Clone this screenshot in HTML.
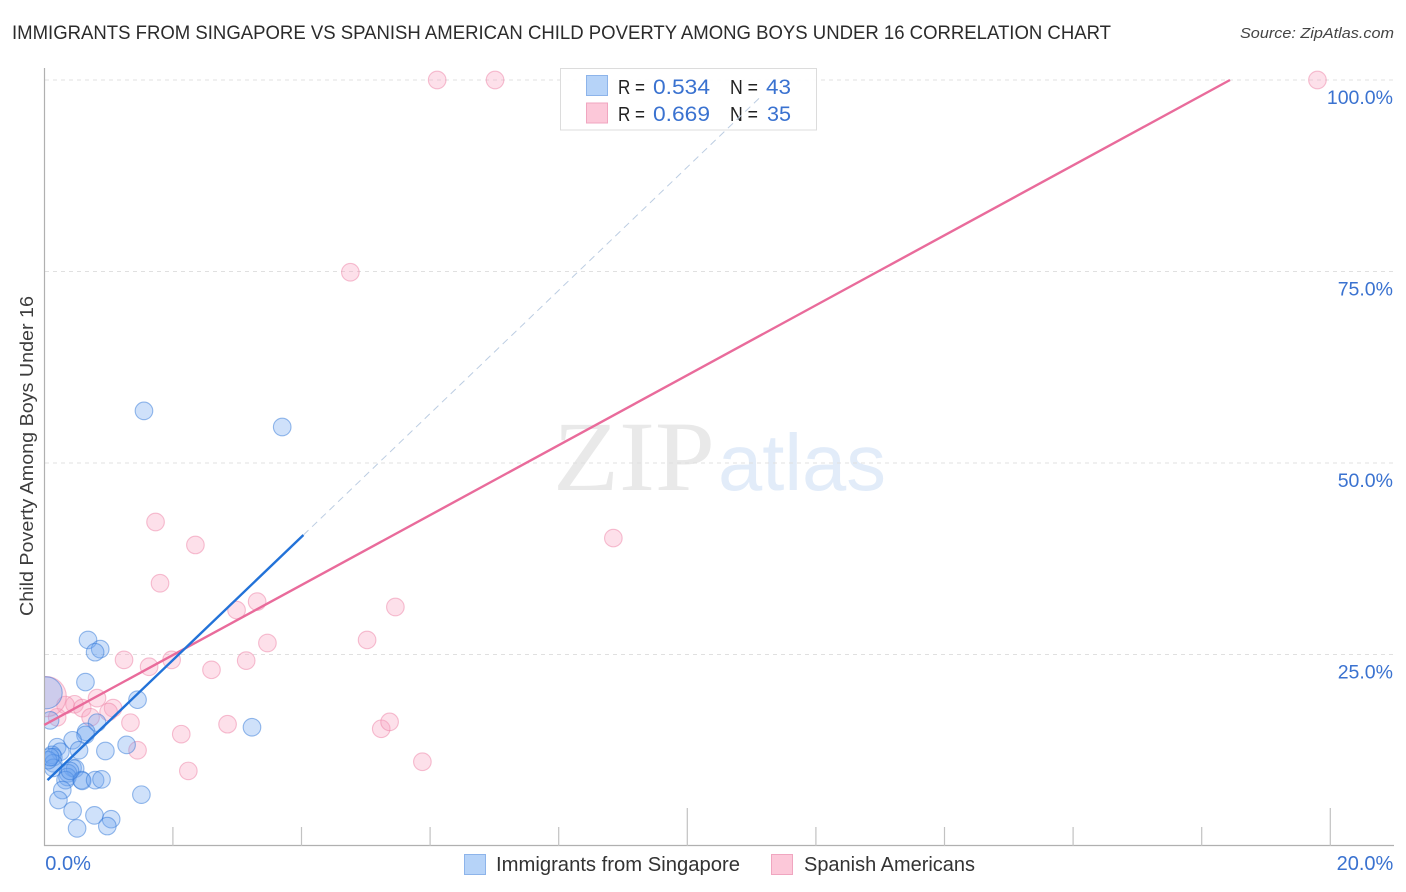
<!DOCTYPE html>
<html>
<head>
<meta charset="utf-8">
<title>Correlation Chart</title>
<style>
html,body{margin:0;padding:0;background:#fff;width:1406px;height:892px;overflow:hidden}
svg{display:block;font-family:"Liberation Sans",sans-serif}
</style>
</head>
<body>
<svg id="chart" width="1406" height="892" viewBox="0 0 1406 892" xmlns="http://www.w3.org/2000/svg">
  <defs><clipPath id="plot-clip"><rect x="45" y="60" width="1350" height="786"/></clipPath></defs>
  <text x="12" y="39" font-size="19" fill="#2b2b2b" textLength="1099" lengthAdjust="spacingAndGlyphs">IMMIGRANTS FROM SINGAPORE VS SPANISH AMERICAN CHILD POVERTY AMONG BOYS UNDER 16 CORRELATION CHART</text>
  <text x="1394" y="38" font-size="15" font-style="italic" fill="#444" text-anchor="end" textLength="154" lengthAdjust="spacingAndGlyphs">Source: ZipAtlas.com</text>
  <g>
    <text x="553" y="490" font-family="'Liberation Serif',serif" font-size="100" fill="#e9e9e9" textLength="162" lengthAdjust="spacingAndGlyphs">ZIP</text>
    <text x="718" y="490" font-size="80" fill="#e2ecf9" textLength="168" lengthAdjust="spacingAndGlyphs">atlas</text>
  </g>
  <g id="grid"></g>
  <g id="axes"></g>
  <g id="points" clip-path="url(#plot-clip)"></g>
  <g id="lines"></g>
  <g id="ylabels"></g>
  <g id="xlabels"></g>
  <text transform="translate(33,456) rotate(-90)" font-size="18" fill="#3d3d3d" text-anchor="middle" textLength="320" lengthAdjust="spacingAndGlyphs">Child Poverty Among Boys Under 16</text>

  <g>
    <rect x="560.5" y="68.5" width="256" height="61.5" fill="#fff" fill-opacity="0.93" stroke="#dcdcdc"/>
    <rect x="586.5" y="75.5" width="21" height="20" fill="#b6d3f8" stroke="#8db4ea"/>
    <rect x="586.5" y="103" width="21" height="20" fill="#fcc8d9" stroke="#f0a6c0"/>
    <text x="618" y="94" font-size="20" fill="#222" textLength="27" lengthAdjust="spacingAndGlyphs">R =</text>
    <text x="653" y="94" font-size="21" fill="#3a72d0" textLength="57" lengthAdjust="spacingAndGlyphs">0.534</text>
    <text x="730" y="94" font-size="20" fill="#222" textLength="28" lengthAdjust="spacingAndGlyphs">N =</text>
    <text x="766" y="94" font-size="21" fill="#3a72d0" textLength="25" lengthAdjust="spacingAndGlyphs">43</text>
    <text x="618" y="121" font-size="20" fill="#222" textLength="27" lengthAdjust="spacingAndGlyphs">R =</text>
    <text x="653" y="121" font-size="21" fill="#3a72d0" textLength="57" lengthAdjust="spacingAndGlyphs">0.669</text>
    <text x="730" y="121" font-size="20" fill="#222" textLength="28" lengthAdjust="spacingAndGlyphs">N =</text>
    <text x="767" y="121" font-size="21" fill="#3a72d0" textLength="24" lengthAdjust="spacingAndGlyphs">35</text>
  </g>
  <g id="dash-over"></g>

  <g>
    <rect x="464.5" y="854.5" width="21" height="20" fill="#b6d3f8" stroke="#8db4ea"/>
    <text x="496" y="871" font-size="20" fill="#333" textLength="244" lengthAdjust="spacingAndGlyphs">Immigrants from Singapore</text>
    <rect x="771.5" y="854.5" width="21" height="20" fill="#fcc8d9" stroke="#f0a6c0"/>
    <text x="804" y="871" font-size="20" fill="#333" textLength="171" lengthAdjust="spacingAndGlyphs">Spanish Americans</text>
  </g>
</svg>
<script>
var singaporeX = [1.55,3.70,0.68,0.87,0.79,0.64,1.45,0.09,0.82,0.65,0.64,0.44,1.28,3.23,0.95,0.54,0.20,0.25,0.12,0.14,0.14,0.14,0.44,0.48,0.37,0.36,0.33,0.58,0.59,0.79,0.89,0.28,0.22,1.51,0.44,0.78,1.04,0.98,0.51,0.06,0.03,0.09,0.40];
var singaporeY = [56.8,54.7,26.9,25.7,25.3,21.4,19.1,16.4,16.1,14.9,14.5,13.8,13.2,15.5,12.4,12.5,12.9,12.3,11.9,11.6,10.8,10.2,10.2,10.1,9.5,9.0,8.6,8.6,8.5,8.6,8.7,7.3,6.0,6.7,4.6,4.0,3.5,2.6,2.3,11.2,20.0,11.6,9.8];
var singaporeWeight = [1,1,1,1,1,1,1,1,1,1,1,1,1,1,1,1,1,1,1,1,1,1,1,1,1,1,1,1,1,1,1,1,1,1,1,1,1,1,1,1,3.3,1,1];
var spanishX = [6.11,7.01,19.80,4.76,1.73,2.35,8.85,1.80,3.31,2.99,5.46,5.02,3.47,3.14,1.24,1.63,1.98,2.60,0.82,0.47,0.33,0.59,0.72,1.07,1.00,0.20,1.34,2.13,1.45,2.85,5.24,5.37,2.24,5.88,0.03];
var spanishY = [100,100,100,74.9,42.3,39.3,40.2,34.3,31.9,30.8,31.2,26.9,26.5,24.2,24.3,23.4,24.3,23.0,19.3,18.5,18.4,18.0,16.8,18.0,17.5,16.8,16.1,14.6,12.5,15.9,15.3,16.2,9.8,11.0,19.5];
var spanishWeight = [1,1,1,1,1,1,1,1,1,1,1,1,1,1,1,1,1,1,1,1,1,1,1,1,1,1,1,1,1,1,1,1,1,1,5.2];
var singaporeTrendX = [0.05,4.03];
var singaporeTrendY = [8.6,40.6];
var singaporeExtendX = [4.03,11.14];
var singaporeExtendY = [40.6,97.8];
var spanishTrendX = [0.0,18.44];
var spanishTrendY = [15.8,100];
var yTicks = [25,50,75,100];
var yTickLabels = ['25.0%','50.0%','75.0%','100.0%'];
var xTicks = [2,4,6,8,10,12,14,16,18,20];
var xMajorTicks = [10,20];
var xEdgeValues = [0,20];
var xEdgeLabels = ['0.0%','20.0%'];

var NS = 'http://www.w3.org/2000/svg';
function sx(v){ return 44.3 + v * 64.3; }
function sy(v){ return 846 - v * 7.66; }
function mk(tag, parentId){
  var el = document.createElementNS(NS, tag);
  document.getElementById(parentId).appendChild(el);
  return el;
}
function set(el, k, v){ el.setAttribute(k, v); }

yTicks.forEach(function(t){
  var g = mk('line', 'grid');
  
  
  set(g,'x1',45); set(g,'x2',1394); set(g,'y1',sy(t)); set(g,'y2',sy(t));
  set(g,'stroke','#e0e0e0'); set(g,'stroke-width',1); set(g,'stroke-dasharray','4 4');
});

var yAxis = mk('line', 'axes');


set(yAxis,'x1',44.5); set(yAxis,'x2',44.5); set(yAxis,'y1',68); set(yAxis,'y2',846);
set(yAxis,'stroke','#b0b0b0'); set(yAxis,'stroke-width',1.2);
var xAxis = mk('line', 'axes');


set(xAxis,'x1',44); set(xAxis,'x2',1394); set(xAxis,'y1',845.5); set(xAxis,'y2',845.5);
set(xAxis,'stroke','#b0b0b0'); set(xAxis,'stroke-width',1.2);
xTicks.forEach(function(t){
  var l = mk('line', 'axes');
  
  
  var major = xMajorTicks.indexOf(t) >= 0;
  set(l,'x1',sx(t)); set(l,'x2',sx(t)); set(l,'y1',846); set(l,'y2',major ? 808 : 827);
  set(l,'stroke','#c2c2c2'); set(l,'stroke-width',1.2);
});

function drawSeries(xs, ys, ws, fill, stroke, name){
  xs.forEach(function(x, i){
    var c = mk('circle', 'points');
    
    
    set(c,'cx',sx(x)); set(c,'cy',sy(ys[i])); set(c,'r',8.8 * Math.sqrt(ws[i]));
    set(c,'fill',fill); set(c,'stroke',stroke); set(c,'stroke-width',1.1);
  });
}
drawSeries(spanishX, spanishY, spanishWeight, 'rgba(250,160,190,0.33)', 'rgba(238,130,165,0.5)', 'spanish-point');
drawSeries(singaporeX, singaporeY, singaporeWeight, 'rgba(110,165,240,0.33)', 'rgba(50,120,215,0.5)', 'singapore-point');

var ext = mk('line', 'dash-over');


set(ext,'x1',sx(singaporeExtendX[0])); set(ext,'y1',sy(singaporeExtendY[0]));
set(ext,'x2',sx(singaporeExtendX[1])); set(ext,'y2',sy(singaporeExtendY[1]));
set(ext,'stroke','#bccde2'); set(ext,'stroke-width',1); set(ext,'stroke-dasharray','7 5');

var pinkLine = mk('line', 'lines');


set(pinkLine,'x1',sx(spanishTrendX[0])); set(pinkLine,'y1',sy(spanishTrendY[0]));
set(pinkLine,'x2',sx(spanishTrendX[1])); set(pinkLine,'y2',sy(spanishTrendY[1]));
set(pinkLine,'stroke','#e96b9b'); set(pinkLine,'stroke-width',2.4);

var blueLine = mk('line', 'lines');


set(blueLine,'x1',sx(singaporeTrendX[0])); set(blueLine,'y1',sy(singaporeTrendY[0]));
set(blueLine,'x2',sx(singaporeTrendX[1])); set(blueLine,'y2',sy(singaporeTrendY[1]));
set(blueLine,'stroke','#2272d8'); set(blueLine,'stroke-width',2.4);

yTicks.forEach(function(t, i){
  var tx = mk('text', 'ylabels');
  
  
  set(tx,'x',1393); set(tx,'y',sy(t) + 24); set(tx,'font-size',19.5); set(tx,'fill','#3a72d0'); set(tx,'text-anchor','end');
  tx.textContent = yTickLabels[i];
});
xEdgeValues.forEach(function(v, i){
  var tx = mk('text', 'xlabels');
  
  
  var last = i === xEdgeValues.length - 1;
  set(tx,'x',last ? sx(v) + 63 : sx(v) + 1); set(tx,'y',870); set(tx,'font-size',20); set(tx,'fill','#3a72d0');
  set(tx,'text-anchor',last ? 'end' : 'start');
  tx.textContent = xEdgeLabels[i];
});
</script>
</body>
</html>
